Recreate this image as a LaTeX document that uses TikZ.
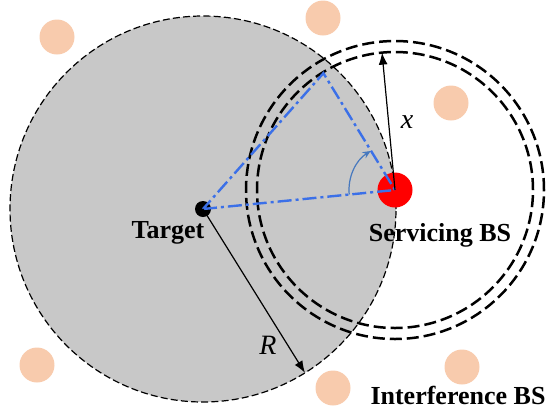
\documentclass[tikz,border=0pt]{standalone}
\usepackage{fontspec}
\setmainfont{Liberation Serif}
\usepackage{tikz}
\usetikzlibrary{arrows.meta, positioning, calc}
\definecolor{covergray}{RGB}{200,200,200}
\definecolor{peach}{RGB}{248,203,173}
\definecolor{linkblue}{RGB}{59,112,232}
\definecolor{anglblue}{RGB}{70,120,190}
\tikzset{
  intbs/.style={circle, fill=peach, minimum size=17.5pt, inner sep=0pt},
  lbl/.style={font=\fontsize{13}{15}\selectfont\bfseries},
  varlbl/.style={font=\fontsize{14}{16}\selectfont\itshape},
  ring/.style={dash pattern=on 6pt off 2.5pt, line width=1.25pt},
  link/.style={linkblue, line width=1.2pt, dash pattern=on 7pt off 2pt on 1.5pt off 2pt},
  arrow/.style={-{Latex[length=6pt,width=4.5pt]}, line width=0.6pt}
}

\begin{document}
\begin{tikzpicture}[x=0.5pt, y=0.5pt]
  \useasboundingbox (0,0) rectangle (552,-419);

  % Coverage area of the target
  \coordinate (tgtc) at (203,-209);
  \coordinate (bsc)  at (395,-190);
  \fill[covergray] (tgtc) circle[radius=193];
  \draw[line width=0.6pt, dash pattern=on 3.5pt off 1.6pt] (tgtc) circle[radius=193];

  % Guard rings of the servicing BS
  \draw[ring] (bsc) circle[radius=138];
  \draw[ring] (bsc) circle[radius=149];

  % Interference BSs
  \node[intbs] (i1) at (57,-37)   {};
  \node[intbs] (i2) at (323,-18)  {};
  \node[intbs] (i3) at (451,-103) {};
  \node[intbs] (i4) at (37,-365)  {};
  \node[intbs] (i5) at (333,-388) {};
  \node[intbs] (i6) at (462,-367) {};

  % Servicing BS and target
  \node[circle, fill=red, minimum size=17.5pt, inner sep=0pt] (bs) at (bsc) {};
  \node[circle, fill=black, minimum size=8pt, inner sep=0pt] (tgt) at (tgtc) {};
  \coordinate (apex) at ($(bsc)+(121.5:137)$);
  \coordinate (xend) at ($(bsc)+(95.4:138)$);
  \coordinate (rend) at ($(tgtc)+(-58.1:193)$);

  % Triangle
  \draw[link] (tgtc) -- (bsc) -- (apex) -- cycle;
  % Angle
  \draw[anglblue, line width=0.6pt, -{Stealth[length=4pt,width=3.5pt]}]
    ($(bsc)+(185.6:46)$) arc[start angle=185.6, end angle=122, radius=46];

  % Distances
  \draw[arrow] (bsc) -- (xend);
  \draw[arrow] (tgtc) -- (rend);
  \node[varlbl] (xl) at (407,-122) {x};
  \node[varlbl] (rl) at (268,-345) {R};

  % Labels
  \node[lbl] (tgtl) at (168,-233) {Target};
  \node[lbl] (bsl)  at (440,-235) {Servicing BS};
  \node[lbl] (intl) at (458,-395) {Interference BS};
\end{tikzpicture}
\end{document}
